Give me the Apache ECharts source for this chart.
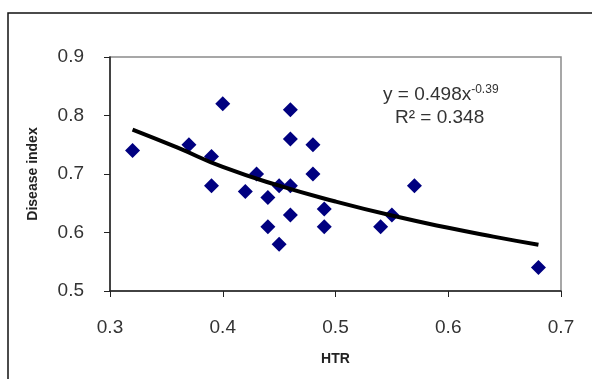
<!DOCTYPE html>
<html><head><meta charset="utf-8">
<script src="https://cdn.jsdelivr.net/npm/echarts@6/dist/echarts.min.js"></script>
<style>html,body{margin:0;padding:0;background:#fff}#c{width:592px;height:379px}</style>
</head><body><div id="c"></div>
<script>
// Observed data (HTR vs Disease index)
var htr = [0.32,0.37,0.40,0.39,0.39,0.42,0.43,0.44,0.44,0.45,0.45,0.46,0.46,0.46,0.46,0.48,0.48,0.49,0.49,0.54,0.55,0.57,0.68];
var disease = [0.74,0.75,0.82,0.73,0.68,0.67,0.70,0.66,0.61,0.58,0.68,0.81,0.76,0.68,0.63,0.75,0.70,0.64,0.61,0.61,0.63,0.68,0.54];
// Trend line points
var trendX = [0.32,0.36,0.40,0.45,0.50,0.55,0.60,0.64,0.68];
var trendY = [0.776,0.745,0.712,0.680,0.653,0.629,0.608,0.593,0.579];
var xTicks = [0.3,0.4,0.5,0.6,0.7];
var yTicks = [0.5,0.6,0.7,0.8,0.9];

var pts = htr.map(function(v,i){return [v, disease[i]];});
var tr = trendX.map(function(v,i){return [v, trendY[i]];});
var font = '"Liberation Sans", Arial, sans-serif';
var chart = echarts.init(document.getElementById('c'));
chart.setOption({
  animation:false,
  grid:{left:110,top:57,right:31,bottom:88,show:true,borderColor:'#8a8a8a',borderWidth:1.5},
  xAxis:{type:'value',min:xTicks[0],max:xTicks[xTicks.length-1],interval:0.1,
    name:'HTR',nameLocation:'middle',nameGap:61,
    nameTextStyle:{fontFamily:font,fontWeight:'bold',fontSize:14,color:'#222'},
    axisLine:{show:true,lineStyle:{color:'#222',width:1.5}},
    axisTick:{show:true,length:6,lineStyle:{color:'#222'}},
    splitLine:{show:false},
    axisLabel:{margin:27,fontFamily:font,fontSize:19,color:'#333',formatter:function(v){return v.toFixed(1);}}},
  yAxis:{type:'value',min:yTicks[0],max:yTicks[yTicks.length-1],interval:0.1,
    name:'Disease index',nameLocation:'middle',nameGap:70,nameRotate:90,
    nameTextStyle:{fontFamily:font,fontWeight:'bold',fontSize:14,color:'#222'},
    axisLine:{show:true,lineStyle:{color:'#222',width:1.5}},
    axisTick:{show:true,length:6,lineStyle:{color:'#222'}},
    splitLine:{show:false},
    axisLabel:{margin:26,fontFamily:font,fontSize:19,color:'#333',formatter:function(v){return v.toFixed(1);}}},
  series:[
    {type:'line',data:tr,smooth:true,symbol:'none',lineStyle:{color:'#000',width:4},z:3},
    {type:'scatter',data:pts,symbol:'diamond',symbolSize:15,itemStyle:{color:'#000080',opacity:1},z:2}
  ],
  graphic:[
    {type:'rect',shape:{x:8,y:13,width:700,height:500},style:{fill:'none',stroke:'#111',lineWidth:1.5},z:-1},
    {type:'text',left:383,top:84,style:{text:'{a|y = 0.498x}{b|-0.39}',rich:{
      a:{fontFamily:font,fontSize:19,fill:'#333'},
      b:{fontFamily:font,fontSize:12,fill:'#333',verticalAlign:'top',padding:[0,0,10,0]}}}},
    {type:'text',left:395,top:108,style:{text:'R² = 0.348',fontFamily:font,fontSize:19,fill:'#333'}}
  ]
});
</script></body></html>
